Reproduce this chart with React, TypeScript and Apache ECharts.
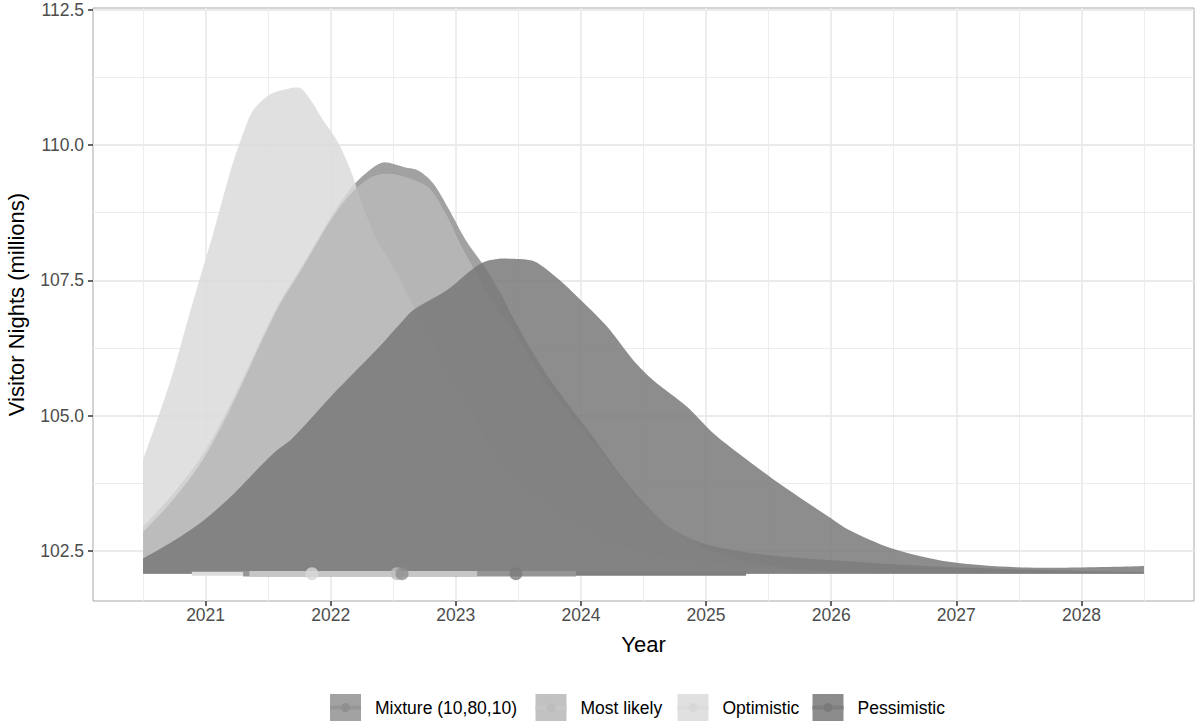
import React, { useEffect, useRef } from "react";
import * as echarts from "echarts";

// ---- axis ticks ----
const yearTicks = [2021, 2022, 2023, 2024, 2025, 2026, 2027, 2028];
const yearMinorTicks = [2020.5, 2021.5, 2022.5, 2023.5, 2024.5, 2025.5, 2026.5, 2027.5, 2028.5];
const valueTicks = [102.5, 105, 107.5, 110, 112.5];
const valueMinorTicks = [103.75, 106.25, 108.75, 111.25];

// ---- scenarios (legend order) ----
const scenarioNames = ["Mixture (10,80,10)", "Most likely", "Optimistic", "Pessimistic"];

// slab baseline (y position of the slabs / intervals)
const slabBase = 102.08;

// ---- slab outlines (year -> visitor nights) ----
const mixtureYear = [2020.5, 2020.72, 2020.96, 2021.14, 2021.28, 2021.57, 2021.78, 2022.0, 2022.16, 2022.32, 2022.43, 2022.59, 2022.7, 2022.82, 2022.95, 2023.08, 2023.22, 2023.36, 2023.46, 2023.7, 2023.9, 2024.1, 2024.3, 2024.5, 2024.7, 2024.96, 2025.36, 2025.76, 2026.2, 2026.6, 2027.0, 2027.5, 2028.0, 2028.5];
const mixtureVal = [102.95, 103.5, 104.22, 104.95, 105.6, 107.0, 107.8, 108.66, 109.2, 109.55, 109.68, 109.59, 109.53, 109.29, 108.79, 108.24, 107.78, 107.25, 106.8, 105.85, 105.2, 104.6, 103.95, 103.4, 102.95, 102.65, 102.46, 102.37, 102.3, 102.24, 102.2, 102.16, 102.13, 102.11];

const mostYear = [2020.5, 2020.72, 2020.96, 2021.14, 2021.28, 2021.57, 2021.78, 2022.0, 2022.16, 2022.32, 2022.45, 2022.55, 2022.78, 2022.92, 2023.04, 2023.16, 2023.28, 2023.48, 2023.72, 2023.96, 2024.2, 2024.42, 2024.7, 2025.0, 2025.3, 2025.6, 2026.0, 2026.5];
const mostVal = [102.85, 103.39, 104.12, 104.86, 105.53, 106.95, 107.75, 108.61, 109.1, 109.4, 109.47, 109.44, 109.22, 108.73, 108.15, 107.65, 107.13, 106.5, 105.6, 104.9, 104.2, 103.55, 102.95, 102.55, 102.33, 102.2, 102.12, 102.09];

const optYear = [2020.5, 2020.72, 2020.88, 2021.06, 2021.2, 2021.3, 2021.38, 2021.52, 2021.66, 2021.74, 2021.78, 2021.86, 2021.94, 2022.05, 2022.16, 2022.26, 2022.37, 2022.53, 2022.64, 2022.8, 2023.0, 2023.28, 2023.52, 2023.76, 2024.0, 2024.3, 2024.62, 2024.94, 2025.34, 2025.8, 2026.3];
const optVal = [104.18, 105.65, 106.95, 108.36, 109.53, 110.21, 110.64, 110.94, 111.04, 111.06, 111.01, 110.76, 110.45, 110.08, 109.53, 108.85, 108.24, 107.62, 107.1, 106.4, 105.6, 104.42, 103.81, 103.35, 102.98, 102.61, 102.41, 102.3, 102.2, 102.13, 102.1];

const pessYear = [2020.5, 2020.72, 2020.96, 2021.2, 2021.41, 2021.57, 2021.68, 2021.84, 2022.0, 2022.24, 2022.4, 2022.56, 2022.66, 2022.93, 2023.2, 2023.39, 2023.6, 2023.8, 2024.0, 2024.21, 2024.42, 2024.58, 2024.85, 2025.06, 2025.33, 2025.62, 2025.98, 2026.14, 2026.48, 2026.94, 2027.48, 2027.88, 2028.5];
const pessVal = [102.36, 102.65, 103.02, 103.5, 104.0, 104.36, 104.55, 104.94, 105.35, 105.92, 106.3, 106.71, 106.95, 107.32, 107.81, 107.9, 107.87, 107.56, 107.13, 106.64, 106.02, 105.65, 105.16, 104.67, 104.18, 103.69, 103.13, 102.89, 102.55, 102.3, 102.2, 102.19, 102.22];

// ---- point summaries: median and interval (order: Mixture, Most likely, Optimistic, Pessimistic) ----
const medians = [2022.57, 2022.53, 2021.85, 2023.48];
const intervalLow = [2021.3, 2021.35, 2020.89, 2022.1];
const intervalHigh = [2023.96, 2023.17, 2022.6, 2025.32];

// ---- styles ----
const slabColors = ["rgba(144,144,144,0.85)", "rgba(184,184,184,0.85)", "rgba(219,219,219,0.85)", "rgba(121,121,121,0.85)"];
const keyColors = ["#a2a2a2", "#c2c2c2", "#e0e0e0", "#8c8c8c"];
const intervalColors = ["#969696", "#c6c6c6", "#dcdcdc", "#7f7f7f"];
const pointColors = ["#8f8f8f", "#bdbdbd", "#d8d8d8", "#7a7a7a"];
const intervalWidths = [5.5, 5.5, 4, 4];

const FONT = '"Liberation Sans", Arial, Helvetica, sans-serif';

const zip = (xs: number[], ys: number[]) => xs.map((x, i) => [x, ys[i]]);

export default function App() {
  const ref = useRef<HTMLDivElement>(null);

  useEffect(() => {
    if (!ref.current) return;
    const chart = echarts.init(ref.current, null, { renderer: "svg" });

    const slabData = [zip(mixtureYear, mixtureVal), zip(mostYear, mostVal), zip(optYear, optVal), zip(pessYear, pessVal)];
    const slabOrder = [0, 2, 1, 3];
    const intervalOrder = [2, 3, 0, 1];
    const pointOrder = [2, 3, 1, 0];

    const series: any[] = [];
    slabOrder.forEach((i) => {
      series.push({
        type: "line",
        name: scenarioNames[i],
        data: slabData[i],
        showSymbol: false,
        symbol: "none",
        smooth: 0.3,
        lineStyle: { width: 0, opacity: 0 },
        areaStyle: { color: slabColors[i], opacity: 1, origin: slabBase },
        silent: true,
        z: 2,
      });
    });
    intervalOrder.forEach((i) => {
      series.push({
        type: "line",
        name: scenarioNames[i] + " interval",
        data: [[intervalLow[i], slabBase], [intervalHigh[i], slabBase]],
        showSymbol: false,
        symbol: "none",
        lineStyle: { color: intervalColors[i], width: intervalWidths[i], cap: "butt" },
        silent: true,
        z: 3,
      });
    });
    pointOrder.forEach((i) => {
      series.push({
        type: "scatter",
        name: scenarioNames[i] + " median",
        data: [[medians[i], slabBase]],
        symbol: "circle",
        symbolSize: 13,
        itemStyle: { color: pointColors[i] },
        silent: true,
        z: 4,
      });
    });

    // legend built from graphic elements (key with slab fill, interval line and point)
    const keyX = [330, 535.5, 677.5, 812.5];
    const keyTop = 694;
    const keyW = 31;
    const keyH = 27;
    const legendGraphics: any[] = [];
    scenarioNames.forEach((name, i) => {
      const x = keyX[i];
      const cy = keyTop + keyH / 2;
      legendGraphics.push({ type: "rect", shape: { x, y: keyTop, width: keyW, height: keyH }, style: { fill: keyColors[i] } });
      legendGraphics.push({ type: "line", shape: { x1: x, y1: cy, x2: x + keyW, y2: cy }, style: { stroke: intervalColors[i], lineWidth: 4 } });
      legendGraphics.push({ type: "circle", shape: { cx: x + keyW / 2, cy, r: 4.5 }, style: { fill: pointColors[i] } });
      legendGraphics.push({
        type: "text",
        x: x + 45,
        y: cy,
        style: { text: name, fill: "#000000", fontSize: 17.5, fontFamily: FONT, verticalAlign: "middle", align: "left" },
      });
    });

    const option: any = {
      animation: false,
      backgroundColor: "#ffffff",
      grid: {
        left: 93,
        right: 1,
        top: 8,
        bottom: 121,
        outerBoundsMode: "none",
        containLabel: false,
        show: true,
        borderColor: "#a8a8a8",
        borderWidth: 1,
        backgroundColor: "transparent",
      },
      xAxis: [
        {
          type: "value",
          min: 2020.1,
          max: 2028.9,
          name: "Year",
          nameLocation: "middle",
          nameGap: 32,
          nameTextStyle: { color: "#000000", fontSize: 22, fontFamily: FONT },
          axisLine: { show: false },
          axisTick: { show: true, length: 5, customValues: yearTicks, lineStyle: { color: "#333333", width: 1.5 } },
          axisLabel: { customValues: yearTicks, color: "#4d4d4d", fontSize: 17.5, fontFamily: FONT, margin: 5, formatter: (v: number) => String(Math.round(v)) },
          splitLine: { show: true, lineStyle: { color: "#ebebeb", width: 1.8 } },
        },
        {
          type: "value",
          min: 2020.1,
          max: 2028.9,
          position: "bottom",
          axisLine: { show: false },
          axisTick: { show: false, customValues: yearMinorTicks },
          axisLabel: { show: false, customValues: yearMinorTicks },
          splitLine: { show: true, lineStyle: { color: "#ebebeb", width: 0.9 } },
        },
      ],
      yAxis: [
        {
          type: "value",
          min: 101.575,
          max: 112.53,
          name: "Visitor Nights (millions)",
          nameLocation: "middle",
          nameGap: 66,
          nameRotate: 90,
          nameTextStyle: { color: "#000000", fontSize: 22, fontFamily: FONT },
          axisLine: { show: false },
          axisTick: { show: true, length: 5, customValues: valueTicks, lineStyle: { color: "#333333", width: 1.5 } },
          axisLabel: { customValues: valueTicks, color: "#4d4d4d", fontSize: 17.5, fontFamily: FONT, margin: 9, formatter: (v: number) => v.toFixed(1) },
          splitLine: { show: true, lineStyle: { color: "#ebebeb", width: 1.8 } },
        },
        {
          type: "value",
          min: 101.575,
          max: 112.53,
          position: "right",
          axisLine: { show: false },
          axisTick: { show: false, customValues: valueMinorTicks },
          axisLabel: { show: false, customValues: valueMinorTicks },
          splitLine: { show: true, lineStyle: { color: "#ebebeb", width: 0.9 } },
        },
      ],
      series,
      graphic: legendGraphics,
    };

    chart.setOption(option);
    return () => chart.dispose();
  }, []);

  return <div ref={ref} style={{ position: "absolute", left: 0, top: 0, width: 1195, height: 722 }} />;
}
